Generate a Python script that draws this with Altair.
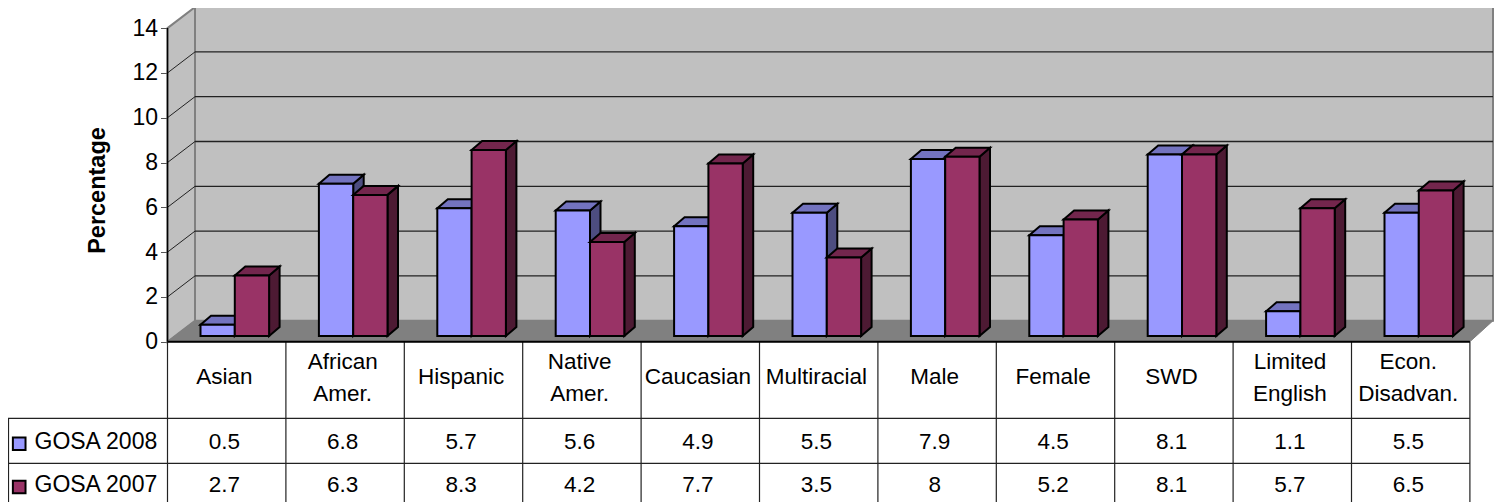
import altair as alt
import pandas as pd

categories = ["Asian", "African\nAmer.", "Hispanic", "Native\nAmer.", "Caucasian", "Multiracial",
              "Male", "Female", "SWD", "Limited\nEnglish", "Econ.\nDisadvan."]
gosa_2008 = [0.5, 6.8, 5.7, 5.6, 4.9, 5.5, 7.9, 4.5, 8.1, 1.1, 5.5]
gosa_2007 = [2.7, 6.3, 8.3, 4.2, 7.7, 3.5, 8, 5.2, 8.1, 5.7, 6.5]
ticks = [0, 2, 4, 6, 8, 10, 12, 14]
series_names = ["GOSA 2008", "GOSA 2007"]

FONT = "Liberation Sans"
W, H = 1486, 494
PX_X, PX_Y = 118.4, 22.4           # pixels per category / per percentage point
X_ORIGIN, Y_ORIGIN = 167.5 - 8, 341.7 - 8


def col(px):
    return (px - 8 - X_ORIGIN) / PX_X


def row(py):
    return (Y_ORIGIN - (py - 8)) / PX_Y


n = len(categories)
WALL_DX, WALL_DY = 27.5 / PX_X, 21 / PX_Y
WALL_RIGHT = col(1493)
BAR_DX, BAR_DY = 10.5 / PX_X, 9 / PX_Y
BAR_X0, BAR_W, BAR_BASE = 33 / PX_X, 34.3 / PX_X, 5.7 / PX_Y

x_scale = alt.Scale(domain=[col(8), col(8 + W)], range=[0, W], nice=False, zero=False)
y_scale = alt.Scale(domain=[row(8 + H), row(8)], range=[H, 0], nice=False, zero=False)
y_axis = alt.Axis(
    values=ticks, offset=-X_ORIGIN, domain=False, grid=False, tickSize=7, tickColor="#555555", tickWidth=1,
    labelFontSize=23, labelFont=FONT, labelColor="black", labelPadding=3, title="Percentage",
    titleFont=FONT, titleFontSize=23.5, titleFontWeight="bold", titleColor="black",
    titleAngle=270, titleX=-70, titleY=182, titleAlign="center", titleBaseline="middle")
X = alt.X("x:Q", scale=x_scale, axis=None, title=None)
Y = alt.Y("y:Q", scale=y_scale, axis=y_axis)
X2, Y2 = alt.X2("x2:Q"), alt.Y2("y2:Q")


def rules(rows, color, width):
    return alt.Chart(pd.DataFrame(rows)).mark_rule(color=color, strokeWidth=width).encode(x=X, x2=X2, y=Y, y2=Y2)


# walls and floor
back = alt.Chart(pd.DataFrame([{"x": WALL_DX, "x2": WALL_RIGHT, "y": WALL_DY, "y2": 14 + WALL_DY}])).mark_rect(
    fill="#C0C0C0", stroke="#808080", strokeWidth=2).encode(x=X, x2=X2, y=Y, y2=Y2)
side_wall = alt.Chart(pd.DataFrame([{"x": 0, "y": 0, "y2": 14}, {"x": WALL_DX, "y": WALL_DY, "y2": 14 + WALL_DY}])).mark_area(
    orient="vertical", fill="#C0C0C0", stroke="#808080", strokeWidth=2, opacity=1).encode(x=X, y=Y, y2=Y2)
floor = alt.Chart(pd.DataFrame([{"y": 0, "x": 0, "x2": n}, {"y": WALL_DY, "x": WALL_DX, "x2": WALL_RIGHT}])).mark_area(
    orient="horizontal", fill="#808080", stroke="#808080", strokeWidth=1, opacity=1).encode(x=X, x2=X2, y=Y)
grid_back = rules([{"x": WALL_DX, "x2": WALL_RIGHT, "y": t + WALL_DY, "y2": t + WALL_DY} for t in ticks[1:-1]], "#222222", 1.3)
grid_side = rules([{"x": 0, "x2": WALL_DX, "y": t, "y2": t + WALL_DY} for t in ticks[1:-1]], "#222222", 1)


def bar_layers(values, offset, front, top, side):
    rect, tops, sides = [], [], []
    for i, v in enumerate(values):
        xl = i + BAR_X0 + offset * BAR_W
        xr = xl + BAR_W
        b, t = BAR_BASE, BAR_BASE + v
        rect.append({"x": xl, "x2": xr, "y": b, "y2": t})
        tops += [{"k": i, "y": t, "x": xl, "x2": xr},
                 {"k": i, "y": t + BAR_DY, "x": xl + BAR_DX, "x2": xr + BAR_DX}]
        sides += [{"k": i, "x": xr, "y": b, "y2": t},
                  {"k": i, "x": xr + BAR_DX, "y": b + BAR_DY, "y2": t + BAR_DY}]
    st = dict(stroke="black", strokeWidth=2, strokeJoin="miter")
    return [
        alt.Chart(pd.DataFrame(sides)).mark_area(orient="vertical", fill=side, opacity=1, **st).encode(
            x=X, y=Y, y2=Y2, detail="k:N"),
        alt.Chart(pd.DataFrame(tops)).mark_area(orient="horizontal", fill=top, opacity=1, **st).encode(
            x=X, x2=X2, y=Y, detail="k:N"),
        alt.Chart(pd.DataFrame(rect)).mark_rect(fill=front, **st).encode(x=X, x2=X2, y=Y, y2=Y2),
    ]


bars_2008 = bar_layers(gosa_2008, 0, "#9999FF", "#7373BF", "#4D4D80")
bars_2007 = bar_layers(gosa_2007, 1, "#993366", "#73264D", "#4D1A33")

axis_line = rules([{"x": 0, "x2": 0, "y": 0, "y2": 14}], "black", 1.5)
front_edge = rules([{"x": 0, "x2": n, "y": 0, "y2": 0}], "black", 2)

# data table
R1, R2, R3 = row(418.3), row(463.3), row(502)
table_lines = [{"x": col(7), "x2": n, "y": R1, "y2": R1}, {"x": col(7), "x2": n, "y": R2, "y2": R2},
               {"x": col(8.5), "x2": col(8.5), "y": R1, "y2": R3}]
table_lines += [{"x": i, "x2": i, "y": 0, "y2": R3} for i in range(n + 1)]
table = rules(table_lines, "#222222", 1.2)

txt = dict(font=FONT, fontSize=22.5, color="black", baseline="middle")
cat_text = alt.Chart(pd.DataFrame({
    "x": [i + 0.48 for i in range(n)],
    "y": [row(362 if "\n" in c else 377) for c in categories],
    "t": categories})).mark_text(lineBreak="\n", lineHeight=32, **txt).encode(x=X, y=Y, text="t:N")
val_rows = []
for vals, py in [(gosa_2008, 442), (gosa_2007, 484.5)]:
    val_rows += [{"x": i + 0.48, "y": row(py), "t": str(v)} for i, v in enumerate(vals)]
val_text = alt.Chart(pd.DataFrame(val_rows)).mark_text(**txt).encode(x=X, y=Y, text="t:N")
leg_text = alt.Chart(pd.DataFrame([
    {"x": col(34.5), "y": row(442), "t": series_names[0]},
    {"x": col(34.5), "y": row(484.5), "t": series_names[1]}])).mark_text(
    align="left", **{**txt, "fontSize": 23}).encode(x=X, y=Y, text="t:N")
swatches = alt.Chart(pd.DataFrame([
    {"x": col(19.2), "y": row(443.7), "c": "#9999FF"},
    {"x": col(19.2), "y": row(487), "c": "#993366"}])).mark_square(size=160, stroke="black", strokeWidth=2, opacity=1).encode(
    x=X, y=Y, fill=alt.Fill("c:N", scale=None))

chart = alt.layer(
    back, side_wall, floor, grid_back, grid_side,
    *bars_2008, *bars_2007,
    axis_line, table, front_edge, cat_text, val_text, leg_text, swatches,
).properties(width=W, height=H, padding=0, autosize=alt.AutoSizeParams(type="none"), background="white"
).configure_view(stroke=None)

chart.save("out.html", embed_options={"renderer": "svg", "actions": False})
